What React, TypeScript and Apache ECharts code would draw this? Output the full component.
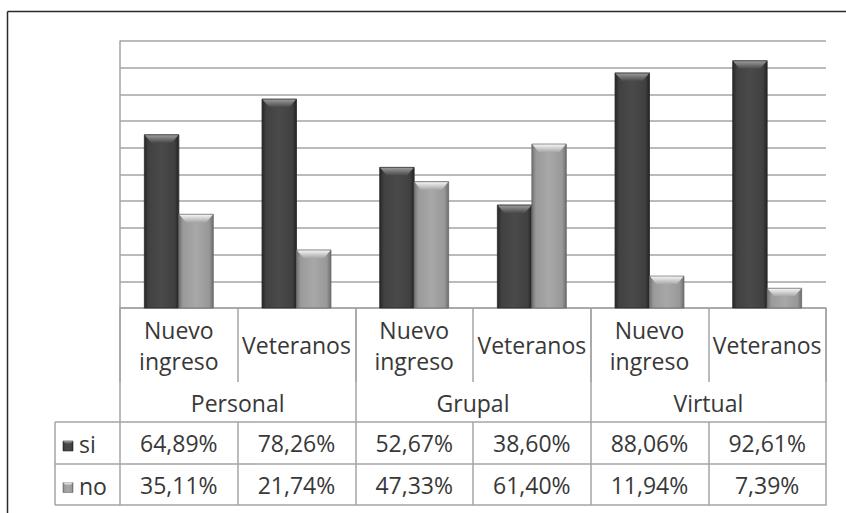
import React, { useEffect, useRef } from "react";
import * as echarts from "echarts";

// Survey results by modality and student type
const groups = ["Personal", "Grupal", "Virtual"];
const subcategories = ["Nuevo ingreso", "Veteranos", "Nuevo ingreso", "Veteranos", "Nuevo ingreso", "Veteranos"];
const seriesNames = ["si", "no"];
const siValues = [64.89, 78.26, 52.67, 38.6, 88.06, 92.61];
const noValues = [35.11, 21.74, 47.33, 61.4, 11.94, 7.39];

const W = 846;
const H = 513;
const GRID_LEFT = 120;
const GRID_RIGHT = 20;
const GRID_TOP = 41;
const GRID_BOTTOM = 205;
const FONT = "'Open Sans', sans-serif";
const FONT_SIZE = 23;
const TEXT = "#383838";
const LINE = "#a4a4a4";

const fmt = (v: number) => v.toFixed(2).replace(".", ",") + "%";

type Palette = { body: string[]; bevel: [string, string]; stroke: string };
const DARK: Palette = {
  body: ["#262626", "#414141", "#4a4a4a", "#404040", "#232323"],
  bevel: ["#9a9a9a", "#4a4a4a"],
  stroke: "#2a2a2a",
};
const LIGHT: Palette = {
  body: ["#707070", "#9a9a9a", "#a8a8a8", "#989898", "#6c6c6c"],
  bevel: ["#f4f4f4", "#a8a8a8"],
  stroke: "#6a6a6a",
};

const bodyGradient = (p: Palette) =>
  new echarts.graphic.LinearGradient(0, 0, 1, 0, [
    { offset: 0, color: p.body[0] },
    { offset: 0.12, color: p.body[1] },
    { offset: 0.5, color: p.body[2] },
    { offset: 0.88, color: p.body[3] },
    { offset: 1, color: p.body[4] },
  ]);

const bevelGradient = (p: Palette) =>
  new echarts.graphic.LinearGradient(0, 0, 0, 1, [
    { offset: 0, color: p.bevel[0] },
    { offset: 1, color: p.bevel[1] },
  ]);

// Bevelled bar: side = -1 draws left of the category centre, +1 right of it
const makeRenderItem = (side: number, palette: Palette) => (params: any, api: any) => {
  const idx = api.value(0);
  const val = api.value(1);
  const top = api.coord([idx, val]);
  const base = api.coord([idx, 0]);
  const catW = api.size([1, 0])[0];
  const w = catW * 0.293;
  const x0 = side < 0 ? top[0] - w : top[0];
  const x1 = x0 + w;
  const y0 = top[1];
  const yb = base[1];
  const d = Math.min(8, (yb - y0) / 2);
  const inset = 7;
  return {
    type: "group",
    children: [
      {
        type: "rect",
        shape: { x: x0, y: y0, width: w, height: yb - y0 },
        style: { fill: bodyGradient(palette), stroke: palette.stroke, lineWidth: 0.8 },
      },
      {
        type: "polygon",
        shape: {
          points: [
            [x0 + 0.5, y0 + 0.5],
            [x1 - 0.5, y0 + 0.5],
            [x1 - inset, y0 + d],
            [x0 + inset, y0 + d],
          ],
        },
        style: { fill: bevelGradient(palette) },
      },
    ],
  };
};

const rowAxis = (values: number[], offset: number, tickLen: number) => ({
  type: "category",
  gridIndex: 0,
  position: "bottom",
  offset,
  data: values.map(fmt),
  axisLine: { show: true, lineStyle: { color: LINE, width: 1.5 } },
  axisTick: { show: true, interval: 0, length: tickLen, lineStyle: { color: LINE, width: 1.5 } },
  axisLabel: {
    interval: 0,
    margin: tickLen / 2,
    verticalAlign: "middle",
    color: TEXT,
    fontFamily: FONT,
    fontSize: FONT_SIZE,
  },
});

export default function App() {
  const ref = useRef<HTMLDivElement>(null);

  useEffect(() => {
    document.body.style.margin = "0";
    if (!ref.current) return;
    const chart = echarts.init(ref.current, null, { renderer: "svg" });

    const subRowH = 74;
    const groupRowH = 114;
    const rowH = 42;
    const tableBottom = H - GRID_BOTTOM + groupRowH + rowH * 2 - 1;
    const legendLeft = 55;
    const siRowTop = H - GRID_BOTTOM + groupRowH;
    const noRowTop = siRowTop + rowH;

    const legendItem = (name: string, palette: Palette, rowTop: number, rowHeight: number) => ({
      type: "group",
      children: [
        {
          type: "rect",
          shape: { x: legendLeft + 8, y: rowTop + rowHeight / 2 - 2, width: 10, height: 10 },
          style: { fill: bodyGradient(palette), stroke: palette.stroke, lineWidth: 0.6 },
        },
        {
          type: "polygon",
          shape: {
            points: [
              [legendLeft + 8, rowTop + rowHeight / 2 - 2],
              [legendLeft + 18, rowTop + rowHeight / 2 - 2],
              [legendLeft + 15, rowTop + rowHeight / 2 + 1],
              [legendLeft + 11, rowTop + rowHeight / 2 + 1],
            ],
          },
          style: { fill: bevelGradient(palette) },
        },
        {
          type: "text",
          x: legendLeft + 24,
          y: rowTop + rowHeight / 2 + 1,
          style: {
            text: name,
            fill: TEXT,
            font: `${FONT_SIZE}px ${FONT}`,
            verticalAlign: "middle",
            align: "left",
          },
        },
      ],
    });

    const tableLine = { stroke: LINE, lineWidth: 1.5 };

    chart.setOption({
      animation: false,
      backgroundColor: "#ffffff",
      grid: {
        left: GRID_LEFT,
        right: GRID_RIGHT,
        top: GRID_TOP,
        bottom: GRID_BOTTOM,
        containLabel: false,
        outerBoundsMode: "none",
      },
      xAxis: [
        {
          type: "category",
          position: "bottom",
          data: subcategories,
          axisLine: { show: true, lineStyle: { color: LINE, width: 1.5 } },
          axisTick: { show: true, interval: 0, length: subRowH, lineStyle: { color: LINE, width: 1.5 } },
          axisLabel: {
            interval: 0,
            margin: subRowH / 2,
            verticalAlign: "middle",
            lineHeight: 31,
            color: TEXT,
            fontFamily: FONT,
            fontSize: FONT_SIZE,
            formatter: (v: string) => v.replace(" ", "\n"),
          },
        },
        {
          type: "category",
          position: "bottom",
          data: groups,
          axisLine: { show: false },
          axisTick: { show: true, interval: 0, length: groupRowH, lineStyle: { color: LINE, width: 1.5 } },
          axisLabel: {
            interval: 0,
            margin: 95,
            verticalAlign: "middle",
            color: TEXT,
            fontFamily: FONT,
            fontSize: FONT_SIZE,
          },
        },
        rowAxis(siValues, groupRowH, rowH),
        rowAxis(noValues, groupRowH + rowH, rowH - 1),
        {
          type: "category",
          position: "bottom",
          offset: groupRowH + rowH * 2 - 1,
          data: subcategories,
          axisLine: { show: true, lineStyle: { color: LINE, width: 1.5 } },
          axisTick: { show: false },
          axisLabel: { show: false },
        },
      ],
      yAxis: {
        type: "value",
        min: 0,
        max: 100,
        interval: 10,
        axisLabel: { show: false },
        axisTick: { show: false },
        axisLine: { show: true, lineStyle: { color: LINE, width: 1.5 } },
        splitLine: { show: true, lineStyle: { color: LINE, width: 1.5 } },
      },
      series: [
        {
          name: seriesNames[0],
          type: "custom",
          xAxisIndex: 0,
          yAxisIndex: 0,
          renderItem: makeRenderItem(-1, DARK),
          encode: { x: 0, y: 1 },
          data: siValues.map((v, i) => [i, v]),
          z: 3,
        },
        {
          name: seriesNames[1],
          type: "custom",
          xAxisIndex: 0,
          yAxisIndex: 0,
          renderItem: makeRenderItem(1, LIGHT),
          encode: { x: 0, y: 1 },
          data: noValues.map((v, i) => [i, v]),
          z: 3,
        },
      ],
      graphic: [
        // outer frame
        { type: "line", shape: { x1: 7.5, y1: 11.5, x2: W, y2: 11.5 }, style: { stroke: "#2a2a2a", lineWidth: 1.5 } },
        { type: "line", shape: { x1: 7.5, y1: 11.5, x2: 7.5, y2: H }, style: { stroke: "#2a2a2a", lineWidth: 1.5 } },
        // legend column of the data table
        { type: "line", shape: { x1: legendLeft, y1: siRowTop, x2: GRID_LEFT, y2: siRowTop }, style: tableLine },
        { type: "line", shape: { x1: legendLeft, y1: noRowTop, x2: GRID_LEFT, y2: noRowTop }, style: tableLine },
        { type: "line", shape: { x1: legendLeft, y1: tableBottom, x2: GRID_LEFT, y2: tableBottom }, style: tableLine },
        { type: "line", shape: { x1: legendLeft, y1: siRowTop, x2: legendLeft, y2: tableBottom }, style: tableLine },
        legendItem(seriesNames[0], DARK, siRowTop, rowH),
        legendItem(seriesNames[1], LIGHT, noRowTop, rowH - 1),
      ],
    });

    return () => chart.dispose();
  }, []);

  return <div ref={ref} style={{ width: W, height: H }} />;
}
